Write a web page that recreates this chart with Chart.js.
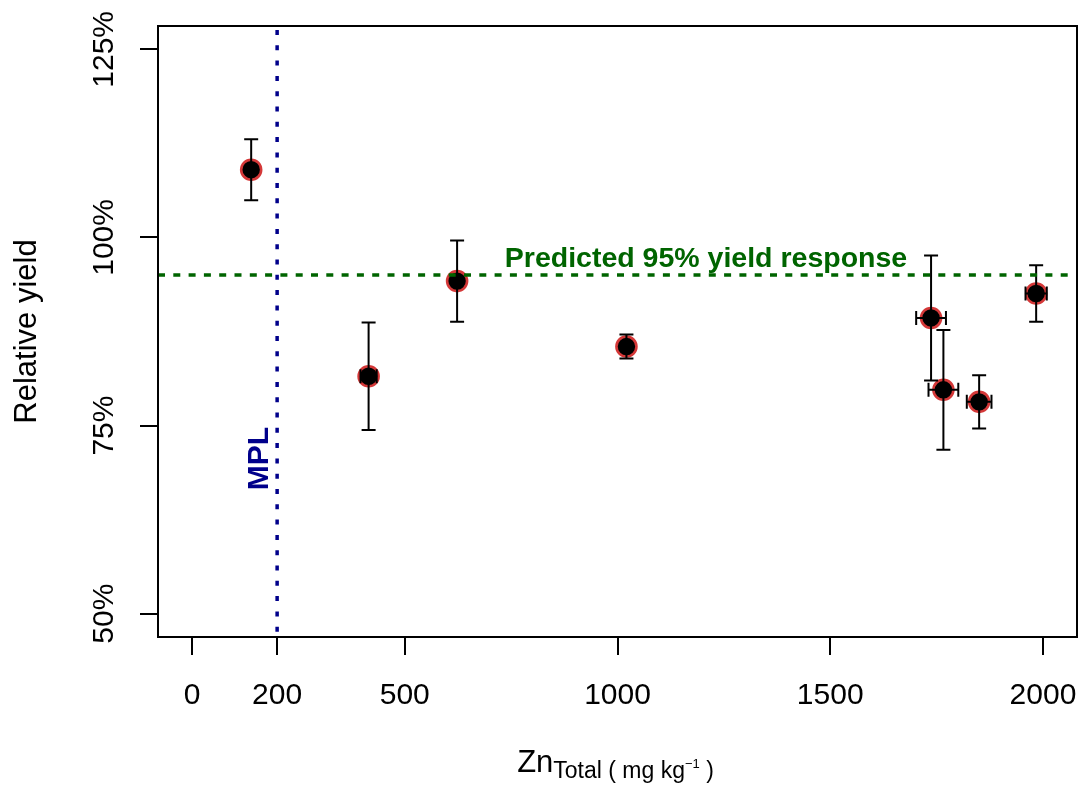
<!DOCTYPE html>
<html>
<head>
<meta charset="utf-8">
<script src="https://cdn.jsdelivr.net/npm/chart.js@4.4.1/dist/chart.umd.min.js"></script>
<style>
  html, body { margin: 0; padding: 0; background: #ffffff; }
  canvas { display: block; }
</style>
</head>
<body>
<canvas id="chart" width="1082" height="787"></canvas>
<script>
// Total Zn in soil (mg/kg) and relative yield (%) per site
const znTotal     = [139, 415, 623, 1021, 1737, 1766, 1850, 1984];
const relYield    = [109.0, 81.55, 94.2, 85.5, 89.3, 79.75, 78.15, 92.55];
const yieldErr    = [4.05, 7.15, 5.4, 1.6, 8.3, 7.95, 3.55, 3.75];
const znErr       = [0, 19, 0, 0, 35, 35, 29, 25];

const xTickValues = [0, 200, 500, 1000, 1500, 2000];
const yTickValues = [50, 75, 100, 125];

const mplValue    = 200;   // maximum permissible limit
const predicted95 = 95;    // predicted 95% yield response

const FONT = '"Liberation Sans", Arial, sans-serif';

// Error bars, reference lines, annotations and the frame
const overlayPlugin = {
  id: 'overlay',
  afterDatasetsDraw(chart) {
    const ctx = chart.ctx;
    const xs = chart.scales.x, ys = chart.scales.y;
    const area = chart.chartArea;
    const cap = 7;

    ctx.save();
    ctx.strokeStyle = '#000';
    ctx.lineWidth = 2;
    ctx.lineCap = 'butt';
    for (let i = 0; i < znTotal.length; i++) {
      const px = xs.getPixelForValue(znTotal[i]);
      const py = ys.getPixelForValue(relYield[i]);
      const yTop = ys.getPixelForValue(relYield[i] + yieldErr[i]);
      const yBot = ys.getPixelForValue(relYield[i] - yieldErr[i]);
      ctx.beginPath();
      ctx.moveTo(px, yTop); ctx.lineTo(px, yBot);
      ctx.moveTo(px - cap, yTop); ctx.lineTo(px + cap, yTop);
      ctx.moveTo(px - cap, yBot); ctx.lineTo(px + cap, yBot);
      ctx.stroke();
      if (znErr[i] > 0) {
        const xL = xs.getPixelForValue(znTotal[i] - znErr[i]);
        const xR = xs.getPixelForValue(znTotal[i] + znErr[i]);
        ctx.beginPath();
        ctx.moveTo(xL, py); ctx.lineTo(xR, py);
        ctx.moveTo(xL, py - cap); ctx.lineTo(xL, py + cap);
        ctx.moveTo(xR, py - cap); ctx.lineTo(xR, py + cap);
        ctx.stroke();
      }
    }

    // predicted 95% yield line
    const gy = ys.getPixelForValue(predicted95);
    ctx.strokeStyle = '#006400';
    ctx.lineWidth = 3.5;
    ctx.setLineDash([7, 8.3]);
    ctx.beginPath();
    ctx.moveTo(area.left, gy); ctx.lineTo(area.right, gy);
    ctx.stroke();

    // MPL line
    const bx = xs.getPixelForValue(mplValue);
    ctx.strokeStyle = '#00008b';
    ctx.lineWidth = 3.5;
    ctx.setLineDash([5, 10.3]);
    ctx.beginPath();
    ctx.moveTo(bx, area.top + 4); ctx.lineTo(bx, area.bottom);
    ctx.stroke();
    ctx.setLineDash([]);

    // annotations
    ctx.fillStyle = '#006400';
    ctx.font = 'bold 28.5px ' + FONT;
    ctx.textAlign = 'center';
    ctx.textBaseline = 'alphabetic';
    ctx.fillText('Predicted 95% yield response', xs.getPixelForValue(1208), ys.getPixelForValue(96.05));

    ctx.save();
    ctx.translate(bx - 17, ys.getPixelForValue(70.6));
    ctx.rotate(-Math.PI / 2);
    ctx.fillStyle = '#00008b';
    ctx.font = 'bold 30px ' + FONT;
    ctx.textAlign = 'center';
    ctx.textBaseline = 'middle';
    ctx.fillText('MPL', 0, 0);
    ctx.restore();

    // frame
    ctx.strokeStyle = '#000';
    ctx.lineWidth = 2;
    ctx.strokeRect(area.left, area.top, area.right - area.left, area.bottom - area.top);

    // x axis title with subscript and superscript
    const parts = [
      { t: 'Zn', size: 31, dy: 0 },
      { t: 'Total ( mg kg', size: 23, dy: 6 },
      { t: '\u22121', size: 13, dy: -4 },
      { t: ' )', size: 23, dy: 6 }
    ];
    let total = 0;
    parts.forEach(p => { ctx.font = p.size + 'px ' + FONT; p.w = ctx.measureText(p.t).width; total += p.w; });
    let cx = (area.left + area.right) / 2 - total / 2 - 2;
    const base = 772;
    ctx.fillStyle = '#000';
    ctx.textAlign = 'left';
    ctx.textBaseline = 'alphabetic';
    parts.forEach(p => {
      ctx.font = p.size + 'px ' + FONT;
      ctx.fillText(p.t, cx, base + p.dy);
      cx += p.w;
    });
    ctx.restore();
  }
};

new Chart(document.getElementById('chart'), {
  type: 'scatter',
  data: {
    datasets: [{
      data: znTotal.map((x, i) => ({ x: x, y: relYield[i] })),
      pointRadius: 10,
      pointHoverRadius: 10,
      pointBackgroundColor: '#000000',
      pointBorderColor: '#d43838',
      pointBorderWidth: 2.6
    }]
  },
  options: {
    responsive: false,
    devicePixelRatio: 1,
    animation: false,
    events: [],
    layout: { autoPadding: false, padding: { top: 26, right: 5, left: 0, bottom: 0 } },
    plugins: { legend: { display: false }, tooltip: { enabled: false } },
    scales: {
      x: {
        type: 'linear',
        min: -80,
        max: 2080,
        afterFit(scale) {
          scale.height = 150;
          scale.paddingLeft = 0;
          scale.paddingRight = 0;
        },
        afterBuildTicks(scale) { scale.ticks = xTickValues.map(v => ({ value: v })); },
        border: { display: false },
        grid: { drawOnChartArea: false, drawTicks: true, tickLength: 18, color: '#000', lineWidth: 2 },
        ticks: {
          autoSkip: false,
          maxRotation: 0,
          padding: 23,
          color: '#000',
          font: { family: FONT, size: 30 },
          callback: v => String(v)
        }
      },
      y: {
        type: 'linear',
        min: 46.9,
        max: 128.1,
        afterFit(scale) {
          scale.width = 158;
          scale.paddingTop = 0;
          scale.paddingBottom = 0;
        },
        afterBuildTicks(scale) { scale.ticks = yTickValues.map(v => ({ value: v })); },
        border: { display: false },
        grid: { drawOnChartArea: false, drawTicks: true, tickLength: 18, color: '#000', lineWidth: 2 },
        ticks: {
          autoSkip: false,
          minRotation: 90,
          maxRotation: 90,
          crossAlign: 'center',
          padding: -3,
          color: '#000',
          font: { family: FONT, size: 30 },
          callback: v => v + '%'
        },
        title: {
          display: true,
          text: 'Relative yield',
          color: '#000',
          font: { family: FONT, size: 31 },
          padding: { top: 9, bottom: 0 }
        }
      }
    }
  },
  plugins: [overlayPlugin]
});
</script>
</body>
</html>
